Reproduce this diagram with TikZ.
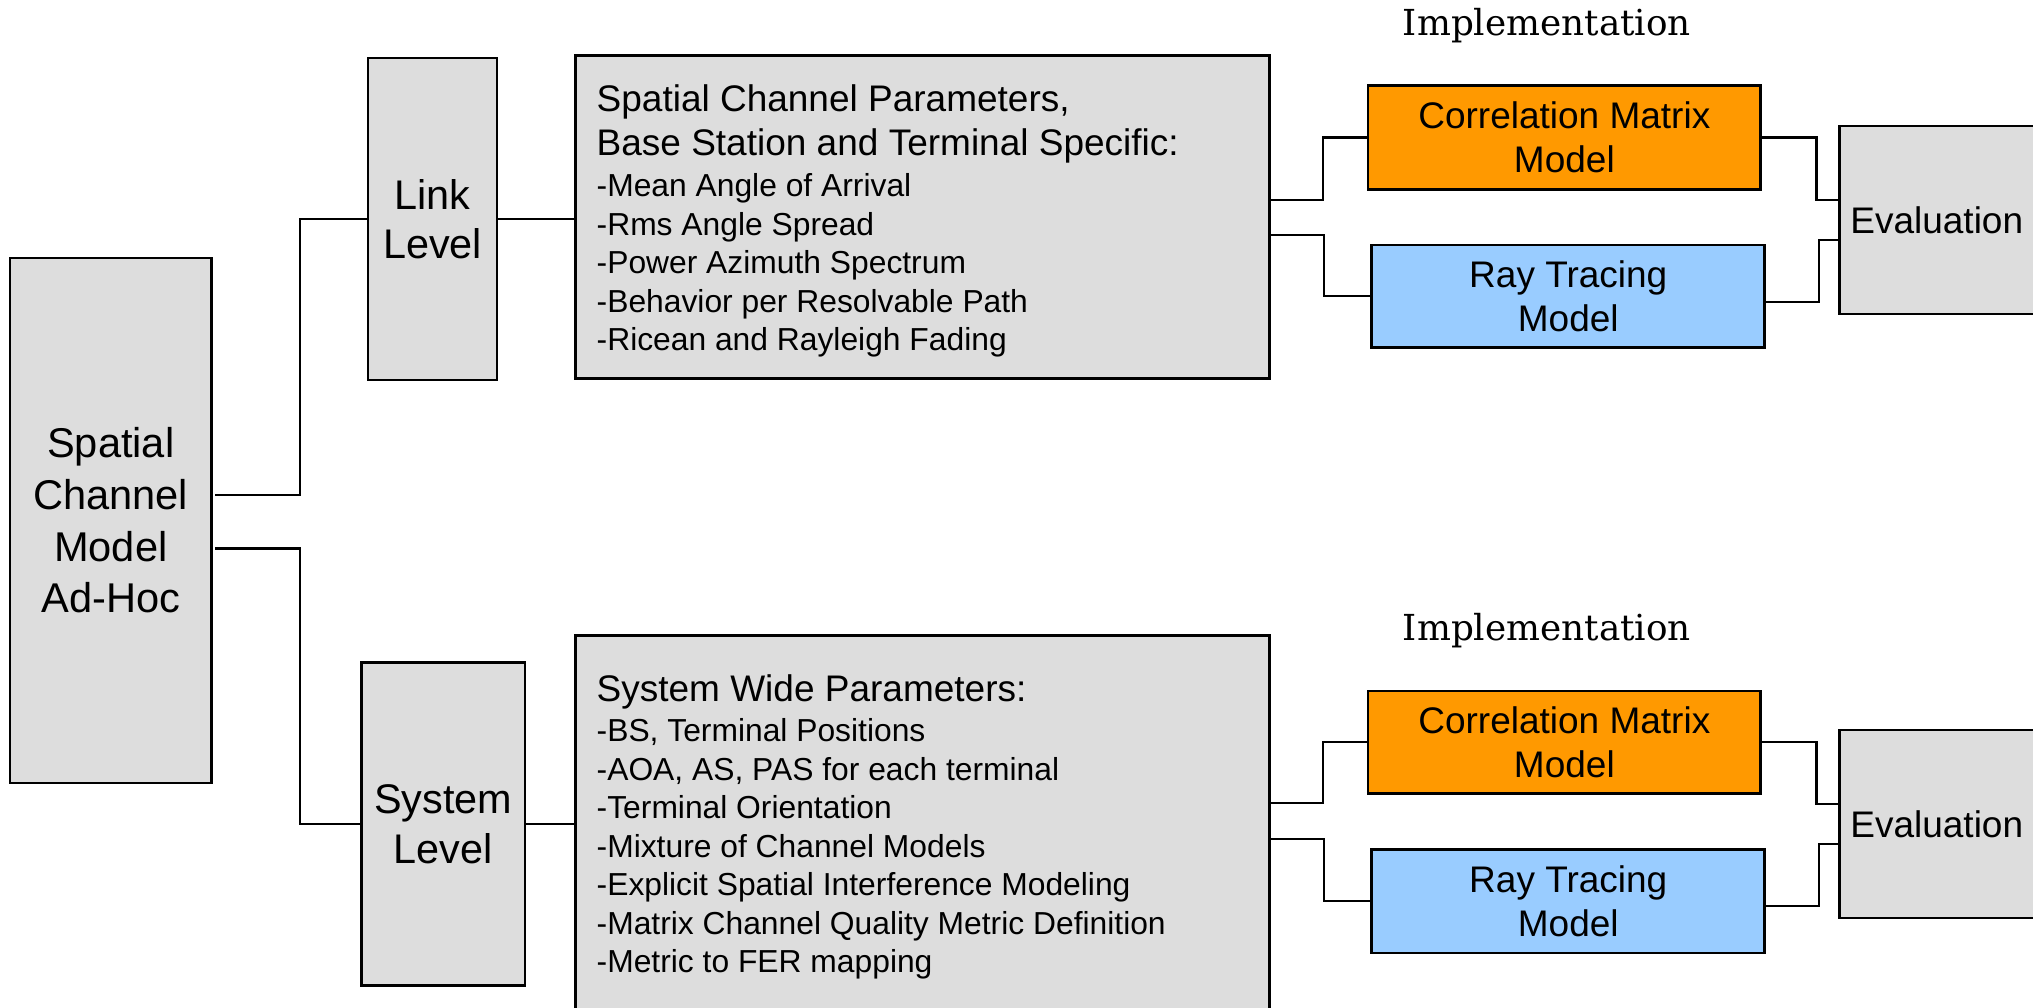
\documentclass[tikz,border=0pt]{standalone}
\usepackage{fontspec}
\setmainfont{Liberation Sans}[Ligatures=NoCommon]
\newfontfamily\implfont{DejaVu Serif}
\usetikzlibrary{calc}
\definecolor{boxgray}{RGB}{221,221,221}
\definecolor{corrorange}{RGB}{255,153,0}
\definecolor{rayblue}{RGB}{153,204,255}
\tikzset{
  box/.style={draw=black, line width=2.7pt, fill=boxgray, inner sep=0pt, outer sep=0pt,
              align=center, font=\fontsize{37}{51.5}\selectfont},
  corrbox/.style={box, fill=corrorange, font=\fontsize{37}{44}\selectfont},
  raybox/.style={box, fill=rayblue, font=\fontsize{37}{44.4}\selectfont},
  conn/.style={line width=2.3pt, draw=black},
  impl/.style={anchor=base west, inner sep=0pt, font=\implfont\fontsize{35.8}{40}\selectfont},
  paramtext/.style={anchor=base west, inner sep=0pt}
}
\begin{document}
\begin{tikzpicture}[x=1pt,y=-1pt]
\useasboundingbox (0,0) rectangle (2033,1007);

% left part
\node[box, minimum width=201.5pt, minimum height=525pt, font=\fontsize{41.6}{51.7}\selectfont] (main) at (110.75,520.5)
  {Spatial\\Channel\\Model\\Ad-Hoc};
\node[box, minimum width=129pt, minimum height=322pt, font=\fontsize{41.4}{49.3}\selectfont] (link) at (432.5,219)
  {Link\\Level};
\node[box, minimum width=163.3pt, minimum height=322.8pt, font=\fontsize{41.4}{50}\selectfont] (sys) at (443.35,824)
  {System\\Level};

% parameter boxes
\node[box, minimum width=693.7pt, minimum height=322.8pt] (p1) at (922.55,217.2) {};
\node[box, minimum width=693.7pt, minimum height=379.7pt] (p2) at (922.55,825.15) {};

\node[paramtext] (p1text) at (596.5,111.5) {\begin{minipage}[t]{660pt}\setlength\parskip{0pt}%
\fontsize{37}{43.5}\selectfont Spatial Channel Parameters,\\Base Station and Terminal Specific:\par
\vspace{3pt}\fontsize{31.8}{38.5}\selectfont
-Mean Angle of Arrival\\
-Rms Angle Spread\\
-Power Azimuth Spectrum\\
-Behavior per Resolvable Path\\
-Ricean and Rayleigh Fading\par
\end{minipage}};

\node[paramtext] (p2text) at (596.5,701.7) {\begin{minipage}[t]{660pt}\setlength\parskip{0pt}%
\fontsize{37}{43.5}\selectfont System Wide Parameters:\par
\vspace{1.3pt}\fontsize{31.8}{38.5}\selectfont
-BS, Terminal Positions\\
-AOA, AS, PAS for each terminal\\
-Terminal Orientation\\
-Mixture of Channel Models\\
-Explicit Spatial Interference Modeling\\
-Matrix Channel Quality Metric Definition\\
-Metric to FER mapping\par
\end{minipage}};

% implementation blocks
\node[impl] (impl1) at (1402.7,35.7) {Implementation};
\node[impl] (impl2) at (1402.7,640) {Implementation};

\node[corrbox, minimum width=392.9pt, minimum height=103.7pt] (c1) at (1564.35,137.45) {Correlation Matrix\\Model};
\node[raybox, minimum width=392.9pt, minimum height=102.5pt] (r1) at (1568.25,296.25) {Ray Tracing\\Model};
\node[box, minimum width=194.5pt, minimum height=188pt] (e1) at (1936.75,220) {Evaluation};

\node[corrbox, minimum width=392.9pt, minimum height=102.4pt] (c2) at (1564.35,742.3) {Correlation Matrix\\Model};
\node[raybox, minimum width=392.9pt, minimum height=103.7pt] (r2) at (1568.25,901.1) {Ray Tracing\\Model};
\node[box, minimum width=194.5pt, minimum height=188pt] (e2) at (1936.75,824) {Evaluation};

% connectors
\draw[conn] ($(main.east)+(3.5,-25.5)$) -| ($(link.west)+(-68,0)$) -- (link.west);
\draw[conn] ($(main.east)+(3.5,28)$) -| ($(sys.west)+(-61.7,0)$) -- (sys.west);
\draw[conn] (link.east) -- (link.east -| p1.west);
\draw[conn] (sys.east) -- (sys.east -| p2.west);

\draw[conn] ($(p1.east)+(0,-16.9)$) -| ($(c1.west)+(-45,0)$) -- (c1.west);
\draw[conn] ($(p1.east)+(0,17.8)$) -| ($(r1.west)+(-48,0)$) -- (r1.west);
\draw[conn] (c1.east) -| ($(e1.west)+(-23,-19.7)$) -- ($(e1.west)+(0,-19.7)$);
\draw[conn] ($(r1.east)+(0,5.75)$) -| ($(e1.west)+(-20.5,20)$) -- ($(e1.west)+(0,20)$);

\draw[conn] ($(p2.east)+(0,-21.85)$) -| ($(c2.west)+(-45,0)$) -- (c2.west);
\draw[conn] ($(p2.east)+(0,13.55)$) -| ($(r2.west)+(-48,0)$) -- (r2.west);
\draw[conn] (c2.east) -| ($(e2.west)+(-23,-20.3)$) -- ($(e2.west)+(0,-20.3)$);
\draw[conn] ($(r2.east)+(0,4.6)$) -| ($(e2.west)+(-20.5,20.3)$) -- ($(e2.west)+(0,20.3)$);
\end{tikzpicture}
\end{document}
